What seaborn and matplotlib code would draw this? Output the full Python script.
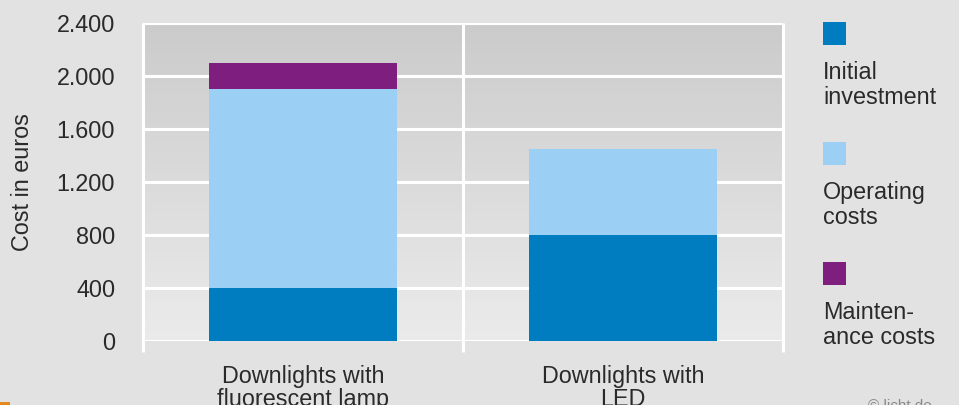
import numpy as np
import pandas as pd
import matplotlib
matplotlib.use("Agg")
import matplotlib.pyplot as plt
from matplotlib.patches import Rectangle
from matplotlib.ticker import FuncFormatter
import seaborn as sns

# Cost breakdown per lighting solution (euros)
categories = ["Downlights with\nfluorescent lamp", "Downlights with\nLED"]
series_names = ["Initial\ninvestment", "Operating\ncosts", "Mainten-\nance costs"]
initial_investment = [400, 800]
operating_costs = [1500, 650]
maintenance_costs = [200, 0]
series_colors = ["#007cc0", "#9bcff3", "#7e1f7f"]
y_ticks = [0, 400, 800, 1200, 1600, 2000, 2400]

sns.set_theme(style="white")
plt.rcParams["font.family"] = ["Liberation Sans", "DejaVu Sans"]
TXT = "#2a2a2a"
FS = 16.8

fig = plt.figure(figsize=(9.59, 4.05), dpi=100, facecolor="#e2e2e2")
ax = fig.add_axes([143 / 959, (405 - 341) / 405, 640 / 959, 318 / 405])
ax.set_facecolor("none")

# Stacked bars: draw cumulative totals from the top layer down
layers = [initial_investment, operating_costs, maintenance_costs]
cum = np.cumsum(np.array(layers), axis=0)
for i in reversed(range(len(layers))):
    df = pd.DataFrame({"category": categories, "value": cum[i]})
    sns.barplot(data=df, x="category", y="value", color=series_colors[i],
                width=0.59, saturation=1, linewidth=0, ax=ax, zorder=3)

# Vertical background gradient inside the plotting area (dark at top)
grad = np.linspace(0, 1, 256).reshape(-1, 1)
cmap = matplotlib.colors.LinearSegmentedColormap.from_list("bg", ["#ebebeb", "#cbcbcb"])
ax.imshow(grad, extent=(-0.5, 1.5, 0, 2400), aspect="auto", cmap=cmap,
          zorder=0, origin="lower")
ax.set_ylim(0, 2400)
ax.set_xlim(-0.5, 1.5)

# White grid and divider lines
ax.set_yticks(y_ticks)
ax.yaxis.set_major_formatter(FuncFormatter(lambda v, p: f"{int(v):,}".replace(",", ".")))
ax.grid(axis="y", color="white", linewidth=2.2, zorder=1)
ax.set_axisbelow(True)
for xv in [-0.5, 0.5, 1.5]:
    ax.plot([xv, xv], [-80, 2400], color="white", linewidth=2.2,
            clip_on=False, zorder=1, solid_capstyle="butt")
ax.tick_params(axis="y", which="major", length=11, width=2.2, color="white",
               direction="out", pad=9, labelsize=FS, labelcolor=TXT)
ax.tick_params(axis="x", which="major", length=0, pad=17, labelsize=FS,
               labelcolor=TXT)
for lab in ax.get_xticklabels():
    lab.set_linespacing(1.0)
for s in ax.spines.values():
    s.set_visible(False)

ax.set_xlabel("")
ax.set_ylabel("Cost in euros", fontsize=FS, color=TXT)
ax.yaxis.set_label_coords(-(143 - 34) / 640, 0.50)

# Legend: colour square above each label
sq = 23
tops = [22, 142, 262]
for name, col, top in zip(series_names, series_colors, tops):
    fig.add_artist(Rectangle((823 / 959, (405 - top - sq) / 405), sq / 959, sq / 405,
                             transform=fig.transFigure, facecolor=col,
                             edgecolor="none"))
    fig.text(823 / 959, (405 - top - 39) / 405, name, fontsize=FS, color=TXT,
             va="top", ha="left", linespacing=1.1)

fig.text(868 / 959, 6 / 405, "© licht.de", fontsize=11, color="#8a8a8a",
         va="top", ha="left")
fig.add_artist(Rectangle((0, 0), 10 / 959, 3 / 405, transform=fig.transFigure,
                         facecolor="#e38a1e", edgecolor="none"))

fig.savefig("out.png", dpi=100, facecolor=fig.get_facecolor())
